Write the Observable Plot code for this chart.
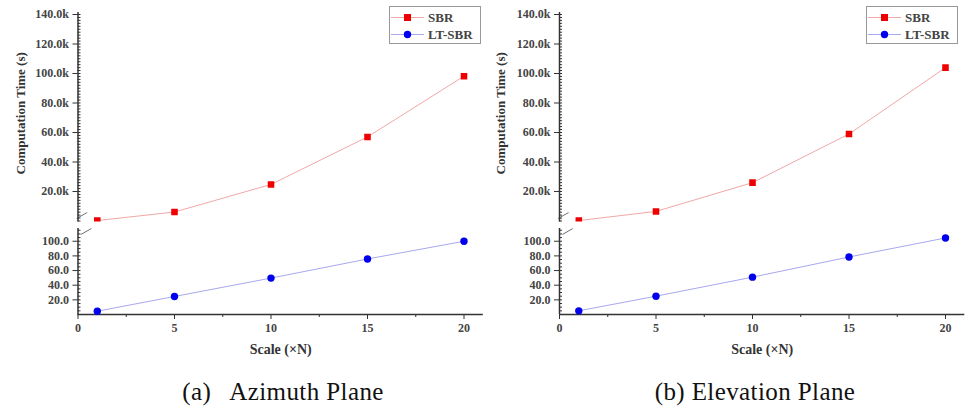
<!DOCTYPE html>
<html>
<head>
<meta charset="utf-8">
<script src="https://cdn.jsdelivr.net/npm/d3@7"></script>
<script src="https://cdn.jsdelivr.net/npm/@observablehq/plot@0.6"></script>
<style>
  html, body { margin: 0; padding: 0; background: #fff; }
  #root { position: relative; width: 965px; height: 407px; background: #fff; overflow: hidden; font-family: "Liberation Serif", "Times New Roman", Times, Tinos, "Noto Serif", "DejaVu Serif", FreeSerif, serif; }
  .legend { position: absolute; border: 1px solid #999; background: #fff; box-sizing: border-box; width: 92px; height: 38px; padding-top: 2px; }
  .legend .row { display: flex; align-items: center; height: 17px; font-weight: bold; font-size: 13px; color: #444; }
  .legend svg { margin-right: 4px; margin-left: 1px; }
  .caption { position: absolute; top: 379px; font-size: 25px; line-height: 26px; letter-spacing: 0.4px; color: #111; white-space: pre; transform: translateX(-50%); }
</style>
</head>
<body>
<div id="root"></div>
<script>
// ---- data ----
const scales = [1, 5, 10, 15, 20];
const sbrAzimuth = [300, 6100, 24800, 57000, 98200];
const ltsbrAzimuth = [4.5, 24.6, 49.7, 75.8, 100.0];
const sbrElevation = [300, 6500, 26000, 59000, 104000];
const ltsbrElevation = [5.0, 25.0, 51.0, 78.5, 104.5];
const upperTicks = [20000, 40000, 60000, 80000, 100000, 120000, 140000];
const lowerTicks = [20, 40, 60, 80, 100];
const xTicks = [0, 5, 10, 15, 20];
const seriesNames = ["SBR", "LT-SBR"];
const captions = ["(a)\u2002 Azimuth Plane", "(b) Elevation Plane"];

const serif = "'Liberation Serif', 'Times New Roman', Times, Tinos, 'Noto Serif', 'DejaVu Serif', FreeSerif, serif";
const axisColor = "#333";
const sbrLine = "#f0a8a8", sbrDot = "#ee0000";
const ltLine = "#a8a8ee", ltDot = "#0000ee";

const root = document.getElementById("root");

function panel(ox, ml, sbr, lt, caption, captionX, legendX) {
  const W = 485;
  const mr = W - ml - 405.3;
  const sbrData = scales.map((x, i) => ({x, y: sbr[i]}));
  const ltData = scales.map((x, i) => ({x, y: lt[i]}));
  const style = {background: "transparent", overflow: "visible", fontFamily: serif};

  const upper = Plot.plot({
    width: W, height: 225,
    marginLeft: ml, marginRight: mr, marginTop: 12, marginBottom: 3.5,
    x: {domain: [0, 21], axis: null},
    y: {domain: [-680, 141360], axis: null},
    style,
    marks: [
      Plot.axisY(d3.range(0, 141000, 2000), {tickSize: -3, tickFormat: () => "", label: null, stroke: axisColor}),
      Plot.axisY(upperTicks, {tickSize: 5, tickPadding: 4, tickFormat: d => (d / 1000).toFixed(1) + "k",
        label: null, fontSize: 12, fontWeight: "bold", color: "#444", stroke: axisColor, fontFamily: serif}),
      Plot.ruleX([0], {stroke: axisColor, strokeWidth: 1.5}),
      Plot.line(sbrData, {x: "x", y: "y", stroke: sbrLine, strokeWidth: 1}),
      Plot.dot(sbrData, {x: "x", y: "y", symbol: "square", r: 3.7, fill: sbrDot, clip: true}),
      Plot.text(["\u2014"], {frameAnchor: "bottom-left", rotate: -30, fontSize: 12, fill: axisColor, dy: -1}),
      Plot.text(["Computation Time (s)"], {frameAnchor: "left", rotate: -90, dx: 20 - ml, dy: 174 - 116.75,
        fontSize: 13, fontWeight: "bold", fill: "#333", fontFamily: serif})
    ]
  });
  upper.style.position = "absolute";
  upper.style.left = ox + "px";
  upper.style.top = "0px";

  const lower = Plot.plot({
    width: W, height: 140,
    marginLeft: ml, marginRight: mr, marginTop: 3, marginBottom: 51,
    x: {domain: [0, 21], axis: null},
    y: {domain: [0, 117.4], axis: null},
    style,
    marks: [
      Plot.axisY(d3.range(0, 117, 5), {tickSize: -3, tickFormat: () => "", label: null, stroke: axisColor}),
      Plot.axisY(lowerTicks, {tickSize: 5, tickPadding: 4, tickFormat: d => d.toFixed(1),
        label: null, fontSize: 12, fontWeight: "bold", color: "#444", stroke: axisColor, fontFamily: serif}),
      Plot.axisX(d3.range(2.5, 21, 5), {tickSize: 3, tickFormat: () => "", label: null, stroke: axisColor}),
      Plot.axisX(xTicks, {tickSize: 5, tickPadding: 4, label: null, fontSize: 12, fontWeight: "bold", color: "#444", stroke: axisColor, fontFamily: serif}),
      Plot.ruleX([0], {stroke: axisColor, strokeWidth: 1.5}),
      Plot.ruleY([0], {stroke: axisColor, strokeWidth: 1.5}),
      Plot.line(ltData, {x: "x", y: "y", stroke: ltLine, strokeWidth: 1}),
      Plot.dot(ltData, {x: "x", y: "y", symbol: "circle", r: 3.7, fill: ltDot}),
      Plot.text(["\u2014"], {frameAnchor: "top-left", rotate: -30, fontSize: 12, fill: axisColor, dy: 1}),
      Plot.text(["Scale (\u00d7N)"], {frameAnchor: "bottom", dy: 39, fontSize: 14, fontWeight: "bold", fill: "#333", fontFamily: serif})
    ]
  });
  lower.style.position = "absolute";
  lower.style.left = ox + "px";
  lower.style.top = "225px";

  root.appendChild(upper);
  root.appendChild(lower);

  // legend
  const leg = document.createElement("div");
  leg.className = "legend";
  leg.style.left = legendX + "px";
  leg.style.top = "6px";
  const defs = [
    {name: seriesNames[0], line: sbrLine, dot: sbrDot, sym: "square"},
    {name: seriesNames[1], line: ltLine, dot: ltDot, sym: "circle"}
  ];
  for (const d of defs) {
    const row = document.createElement("div");
    row.className = "row";
    const mk = d.sym === "square"
      ? `<rect x="13" y="2" width="7" height="7" fill="${d.dot}"/>`
      : `<circle cx="16.5" cy="5.5" r="3.7" fill="${d.dot}"/>`;
    row.innerHTML = `<svg width="33" height="11"><line x1="0" x2="33" y1="5.5" y2="5.5" stroke="${d.line}" stroke-width="1"/>${mk}</svg><span>${d.name}</span>`;
    leg.appendChild(row);
  }
  root.appendChild(leg);

  const cap = document.createElement("div");
  cap.className = "caption";
  cap.style.left = captionX + "px";
  cap.textContent = caption;
  root.appendChild(cap);
}

panel(0, 77.5, sbrAzimuth, ltsbrAzimuth, captions[0], 283, 389);
panel(480, 79, sbrElevation, ltsbrElevation, captions[1], 755, 866);
</script>
</body>
</html>
